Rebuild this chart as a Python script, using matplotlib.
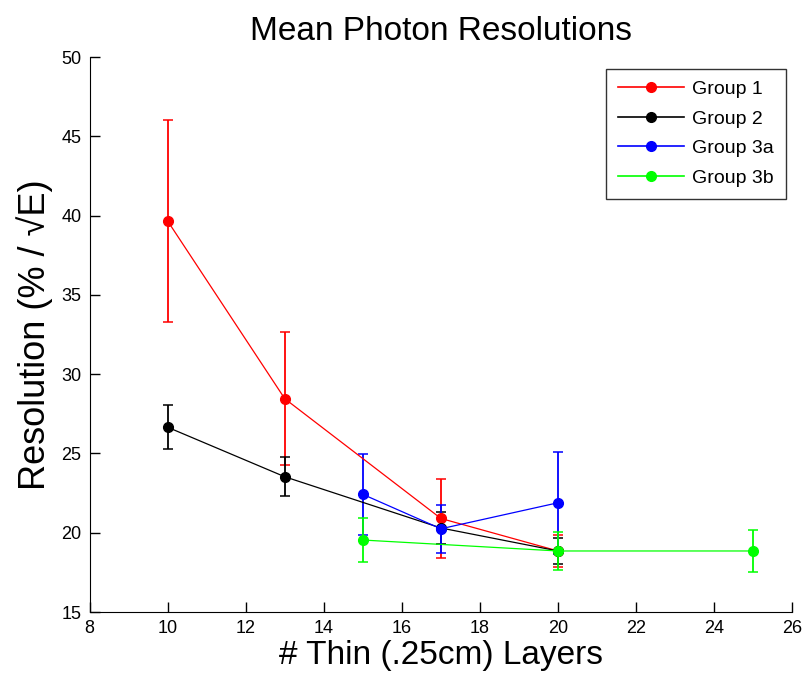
import matplotlib
matplotlib.use("Agg")
import matplotlib.pyplot as plt
from matplotlib.lines import Line2D

plt.rcParams['font.family'] = ['Liberation Sans', 'DejaVu Sans']

# Data
g1_x = [10, 13, 17, 20]
g1_y = [39.65, 28.45, 20.9, 18.85]
g1_e = [6.35, 4.2, 2.47, 1.0]

g2_x = [10, 13, 17, 20]
g2_y = [26.65, 23.53, 20.3, 18.85]
g2_e = [1.4, 1.22, 1.0, 0.8]

g3a_x = [15, 17, 20]
g3a_y = [22.42, 20.25, 21.89]
g3a_e = [2.54, 1.5, 3.2]

g3b_x = [15, 20, 25]
g3b_y = [19.54, 18.85, 18.85]
g3b_e = [1.36, 1.2, 1.33]

labels = ['Group 1', 'Group 2', 'Group 3a', 'Group 3b']
colors = ['#ff0000', '#000000', '#0000ff', '#00ff00']

fig = plt.figure(figsize=(8.05, 6.82), dpi=100)
ax = fig.add_axes([0.1114, 0.1026, 0.8726, 0.8138])

series = [(g1_x, g1_y, g1_e), (g2_x, g2_y, g2_e), (g3a_x, g3a_y, g3a_e), (g3b_x, g3b_y, g3b_e)]
handles = []
for (x, y, e), lab, c in zip(series, labels, colors):
    ax.errorbar(x, y, yerr=e, color=c, marker='o', markersize=7, linewidth=0.9,
                elinewidth=1.3, capsize=3.8, capthick=1.1)
    handles.append(Line2D([], [], color=c, marker='o', markersize=7, linewidth=1.2, label=lab))

ax.set_xlim(8, 26)
ax.set_ylim(15, 50)
ax.set_xticks(range(8, 27, 2))
ax.set_yticks(range(15, 51, 5))
ax.spines['top'].set_visible(False)
ax.spines['right'].set_visible(False)
ax.tick_params(direction='in', length=7, width=1, labelsize=13, pad=6)

ax.set_title('Mean Photon Resolutions', fontsize=24, pad=12)
ax.set_xlabel('# Thin (.25cm) Layers', fontsize=24, labelpad=2)
ax.set_ylabel('Resolution (% / \u221aE)', fontsize=26, labelpad=6)

leg = ax.legend(handles=handles, loc='upper right', bbox_to_anchor=(0.991, 0.979), fontsize=14,
                frameon=True, fancybox=False, edgecolor='black', handlelength=3.4,
                borderpad=0.6, labelspacing=0.62, handletextpad=0.45, borderaxespad=0)
leg.get_frame().set_linewidth(1.0)

fig.savefig('out.png', dpi=100)
